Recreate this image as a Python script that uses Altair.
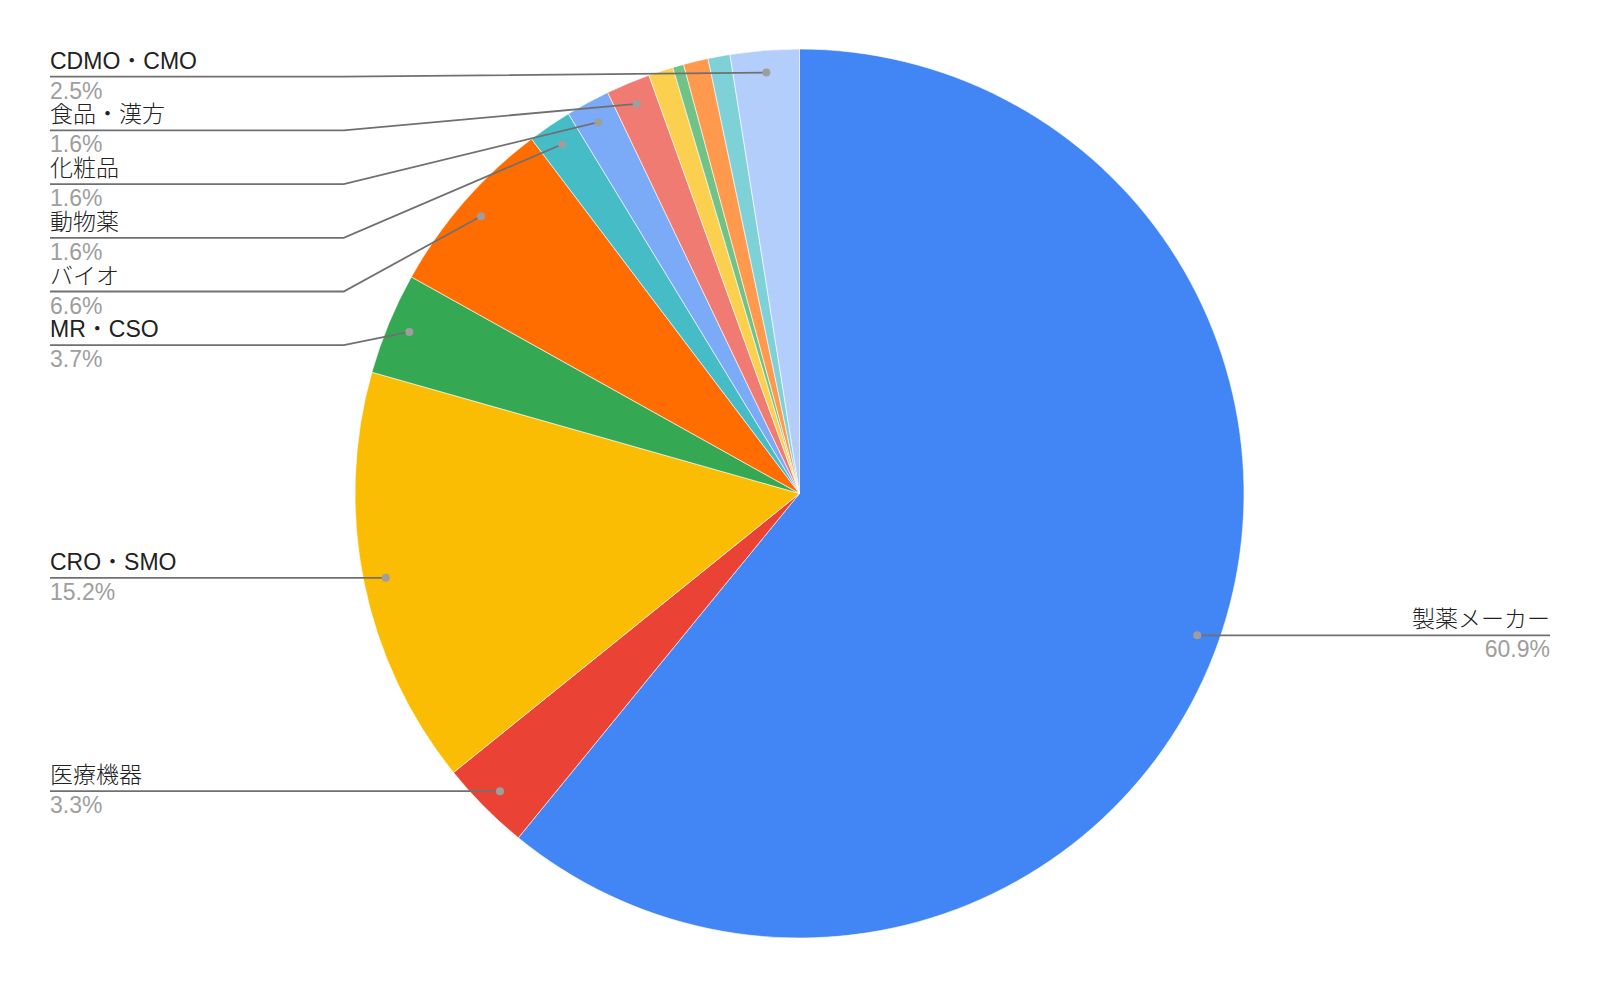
import math
import altair as alt
import pandas as pd

# ---- data ----
categories = ["製薬メーカー", "医療機器", "CRO・SMO", "MR・CSO", "バイオ", "動物薬", "化粧品",
              "食品・漢方", "その他1", "その他2", "その他3", "その他4", "CDMO・CMO"]
shares = [60.9, 3.3, 15.2, 3.7, 6.6, 1.6, 1.6, 1.6, 0.9, 0.4, 0.9, 0.8, 2.5]
labeled = [True, True, True, True, True, True, True, True, False, False, False, False, True]

# ---- style / layout ----
colors = ["#4285F4", "#EA4335", "#FBBC04", "#34A853", "#FF6D01", "#46BDC6", "#7BAAF7",
          "#F07B72", "#FCD04F", "#71C287", "#FF994D", "#7ED1D7", "#B3CEFB"]
W, H = 1583, 971
CX, CY = W / 2, H / 2
R = 444.5
DOT_R = 0.95 * R
LEFT_X, RIGHT_X = 42, 1542
KNEE_LEFT = 335.7
STACK_TOP, STACK_STEP = 68.7, 53.7
stack_slots = {"CDMO・CMO": 0, "食品・漢方": 1, "化粧品": 2, "動物薬": 3, "バイオ": 4, "MR・CSO": 5}
FONT = "Arial, Liberation Sans, Noto Sans CJK JP, sans-serif"
FS = 23

total = sum(shares)
pie_df = pd.DataFrame({"cat": categories, "share": shares, "idx": list(range(len(categories)))})

line_rows, label_rows, dot_rows = [], [], []
cum = 0.0
for c, s, lab in zip(categories, shares, labeled):
    mid = (cum + s / 2) / total * 2 * math.pi
    cum += s
    if not lab:
        continue
    dx = CX + DOT_R * math.sin(mid)
    dy = CY - DOT_R * math.cos(mid)
    side = "right" if dx > CX else "left"
    ly = STACK_TOP + STACK_STEP * stack_slots[c] if c in stack_slots else dy
    if side == "left":
        pts = [(LEFT_X, ly), (KNEE_LEFT, ly), (dx, dy)]
        tx = LEFT_X
    else:
        pts = [(RIGHT_X, ly), (dx, ly), (dx, dy)]
        tx = RIGHT_X
    for k, (px, py) in enumerate(pts):
        line_rows.append({"cat": c, "step": k, "x": px, "y": py})
    dot_rows.append({"cat": c, "x": dx, "y": dy})
    label_rows.append({"cat": c, "pct": f"{s:.1f}%", "x": tx, "y": ly, "side": side})

lines_df = pd.DataFrame(line_rows)
labels_df = pd.DataFrame(label_rows)
dots_df = pd.DataFrame(dot_rows)

xs = alt.Scale(domain=[0, W], nice=False, zero=False)
ys = alt.Scale(domain=[0, H], reverse=True, nice=False, zero=False)

pie = alt.Chart(pie_df).mark_arc(radius=R, stroke="#ffffff", strokeWidth=0.6).encode(
    theta=alt.Theta("share:Q", stack=True),
    color=alt.Color("cat:N", scale=alt.Scale(domain=categories, range=colors), legend=None),
    order=alt.Order("idx:Q"),
)

leaders = alt.Chart(lines_df).mark_line(color="#707070", strokeWidth=1.8).encode(
    x=alt.X("x:Q", scale=xs, axis=None),
    y=alt.Y("y:Q", scale=ys, axis=None),
    detail="cat:N",
    order="step:Q",
)

dots = alt.Chart(dots_df).mark_circle(size=64, color="#9e9e9e", opacity=1).encode(
    x=alt.X("x:Q", scale=xs, axis=None),
    y=alt.Y("y:Q", scale=ys, axis=None),
)

def text_layers(side, align):
    base = alt.Chart(labels_df).transform_filter(alt.datum.side == side)
    name = base.mark_text(align=align, baseline="alphabetic", dy=-8, fontSize=FS,
                          font=FONT, fontWeight=300, color="#222222").encode(
        x=alt.X("x:Q", scale=xs, axis=None), y=alt.Y("y:Q", scale=ys, axis=None), text="cat:N")
    pct = base.mark_text(align=align, baseline="alphabetic", dy=22, fontSize=FS,
                         font=FONT, fontWeight=300, color="#9e9e9e").encode(
        x=alt.X("x:Q", scale=xs, axis=None), y=alt.Y("y:Q", scale=ys, axis=None), text="pct:N")
    return [name, pct]

layers = [pie, leaders, dots] + text_layers("left", "left") + text_layers("right", "right")

chart = alt.layer(*layers).properties(
    width=W, height=H, autosize=alt.AutoSizeParams(type="none"), padding=0
).configure_view(stroke=None)

chart.save("out.html", embed_options={"renderer": "svg", "actions": False})
